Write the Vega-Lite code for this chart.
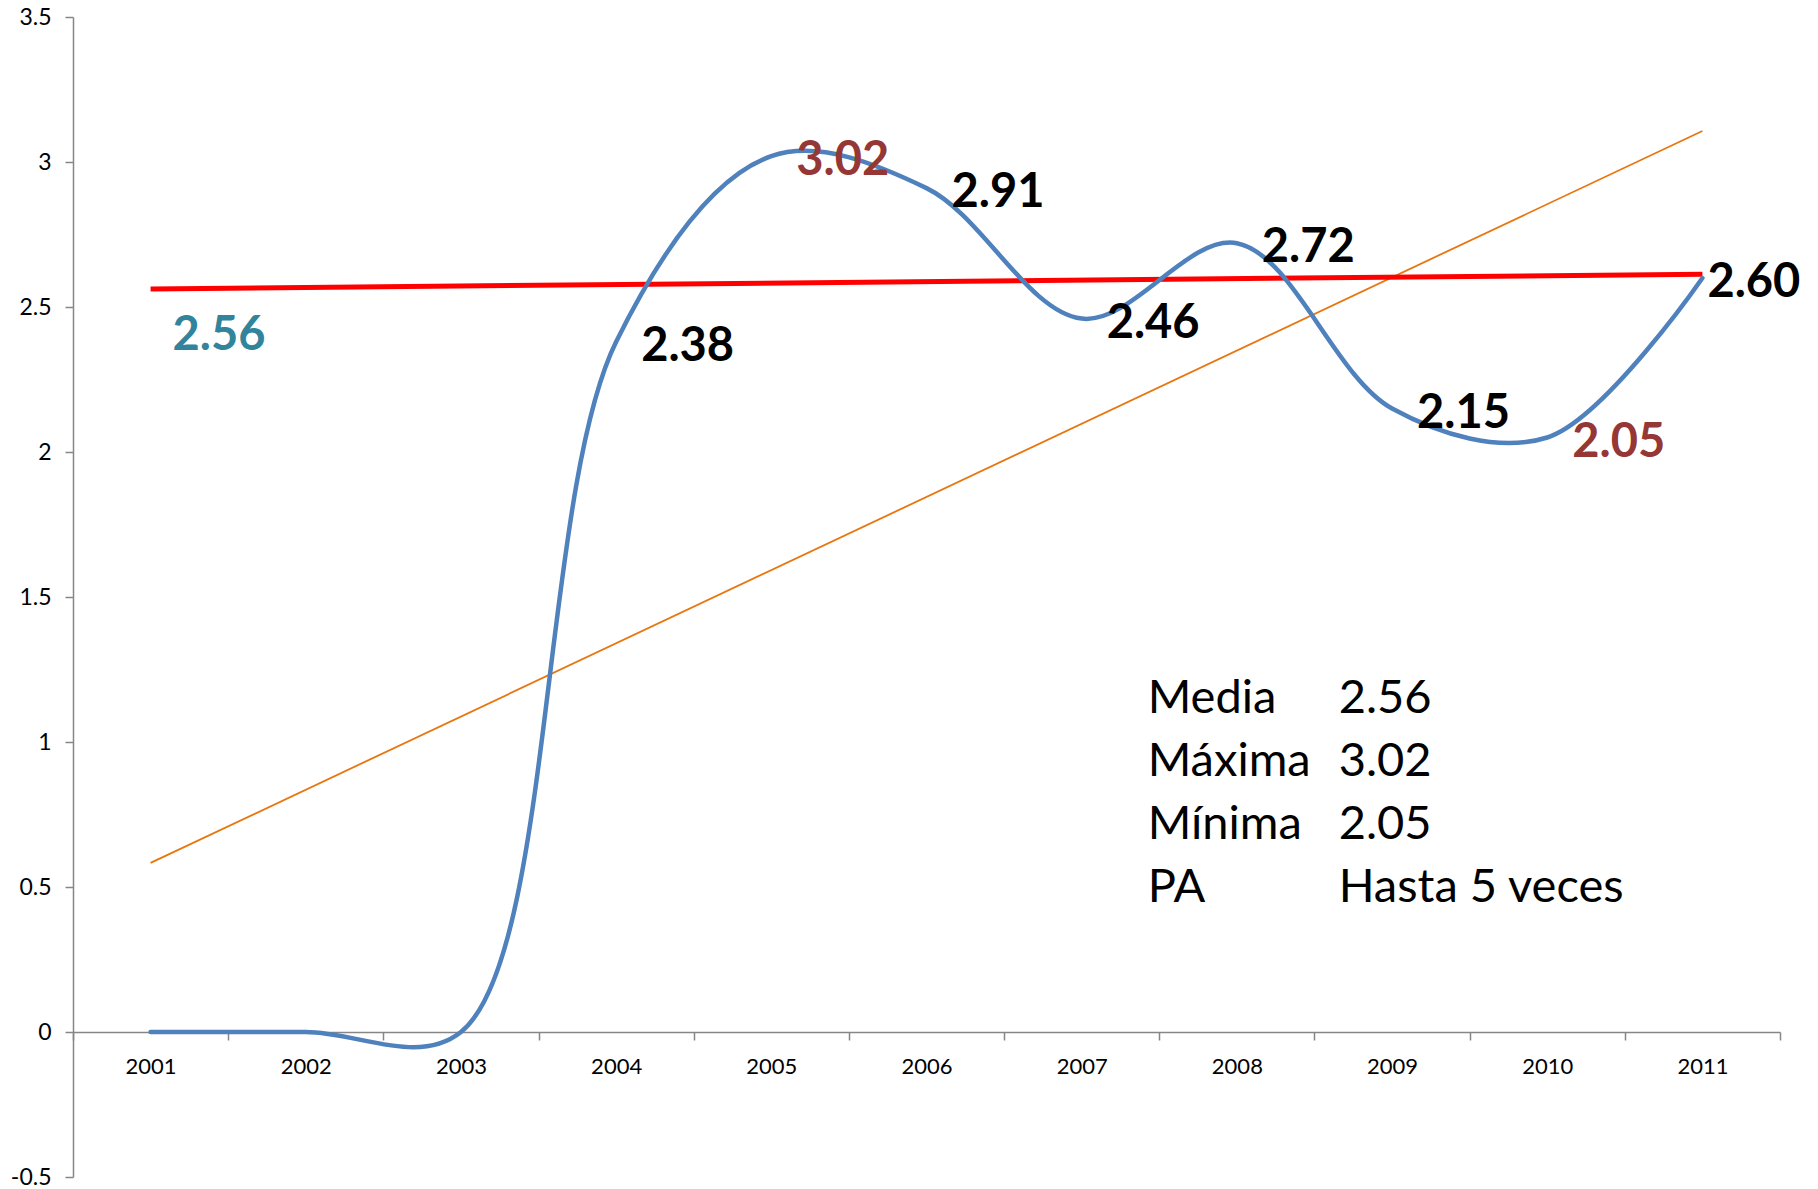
{
  "$schema": "https://vega.github.io/schema/vega-lite/v6.json",
  "width": 1707,
  "height": 1160,
  "autosize": {"type": "none"},
  "padding": {"left": 73, "top": 17, "right": 38, "bottom": 12},
  "background": "white",
  "config": {
    "view": {"stroke": null},
    "axis": {
      "domainColor": "#868686",
      "domainWidth": 1.5,
      "tickColor": "#868686",
      "tickWidth": 1.5,
      "tickSize": 8,
      "grid": false,
      "labelFont": "Lato",
      "labelFontSize": 22,
      "labelColor": "#000000",
      "title": null
    }
  },
  "datasets": {
    "serie": [
      {"anio": "2001", "valor": 0, "etiqueta": "", "tipo": "Dato"},
      {"anio": "2002", "valor": 0, "etiqueta": "", "tipo": "Dato"},
      {"anio": "2003", "valor": 0, "etiqueta": "", "tipo": "Dato"},
      {"anio": "2004", "valor": 2.38, "etiqueta": "2.38", "tipo": "Dato"},
      {"anio": "2005", "valor": 3.02, "etiqueta": "3.02", "tipo": "Máxima"},
      {"anio": "2006", "valor": 2.91, "etiqueta": "2.91", "tipo": "Dato"},
      {"anio": "2007", "valor": 2.46, "etiqueta": "2.46", "tipo": "Dato"},
      {"anio": "2008", "valor": 2.72, "etiqueta": "2.72", "tipo": "Dato"},
      {"anio": "2009", "valor": 2.15, "etiqueta": "2.15", "tipo": "Dato"},
      {"anio": "2010", "valor": 2.05, "etiqueta": "2.05", "tipo": "Mínima"},
      {"anio": "2011", "valor": 2.60, "etiqueta": "2.60", "tipo": "Dato"}
    ],
    "media": [
      {"anio": "2001", "valor": 2.562},
      {"anio": "2011", "valor": 2.613}
    ],
    "tendencia": [
      {"anio": "2001", "valor": 0.583},
      {"anio": "2011", "valor": 3.107}
    ],
    "resumen": [
      {"linea": 1, "nombre": "Media", "dato": "2.56"},
      {"linea": 2, "nombre": "Máxima", "dato": "3.02"},
      {"linea": 3, "nombre": "Mínima", "dato": "2.05"},
      {"linea": 4, "nombre": "PA", "dato": "Hasta 5 veces"}
    ]
  },
  "layer": [
    {
      "data": {"name": "tendencia"},
      "mark": {"type": "line", "color": "#E8760F", "strokeWidth": 1.8},
      "encoding": {
        "x": {
          "field": "anio",
          "type": "ordinal",
          "bandPosition": 0.5,
          "scale": {
            "type": "band",
            "domain": ["2001","2002","2003","2004","2005","2006","2007","2008","2009","2010","2011"],
            "paddingInner": 0,
            "paddingOuter": 0
          },
          "axis": {
            "orient": "bottom",
            "offset": -145,
            "tickBand": "extent",
            "labelAngle": 0,
            "labelPadding": 16,
            "labelBaseline": "top"
          }
        },
        "y": {
          "field": "valor",
          "type": "quantitative",
          "scale": {"domain": [-0.5, 3.5], "nice": false, "zero": false},
          "axis": {
            "values": [-0.5, 0, 0.5, 1, 1.5, 2, 2.5, 3, 3.5],
            "format": ".1~f",
            "labelExpr": "replace(datum.label, '\u2212', '-')",
            "labelPadding": 14,
            "labelFontSize": 23
          }
        }
      }
    },
    {
      "data": {"name": "media"},
      "mark": {"type": "line", "color": "#FF0000", "strokeWidth": 5},
      "encoding": {
        "x": {"field": "anio", "type": "ordinal", "bandPosition": 0.5},
        "y": {"field": "valor", "type": "quantitative"}
      }
    },
    {
      "data": {"name": "serie"},
      "mark": {"type": "line", "color": "#4F81BD", "strokeWidth": 4.5, "interpolate": "catmull-rom", "strokeCap": "round"},
      "encoding": {
        "x": {"field": "anio", "type": "ordinal", "bandPosition": 0.5},
        "y": {"field": "valor", "type": "quantitative"}
      }
    },
    {
      "data": {"name": "serie"},
      "transform": [{"filter": "datum.etiqueta != '' && datum.anio != '2011'"}],
      "mark": {"type": "text", "align": "left", "baseline": "middle", "dx": 25, "dy": 5, "font": "Lato", "fontSize": 47, "fontWeight": "bold"},
      "encoding": {
        "x": {"field": "anio", "type": "ordinal", "bandPosition": 0.5},
        "y": {"field": "valor", "type": "quantitative"},
        "text": {"field": "etiqueta"},
        "color": {
          "field": "tipo",
          "type": "nominal",
          "scale": {"domain": ["Dato", "Máxima", "Mínima"], "range": ["#000000", "#953735", "#953735"]},
          "legend": null
        }
      }
    },
    {
      "data": {"name": "serie"},
      "transform": [{"filter": "datum.anio == '2011'"}],
      "mark": {"type": "text", "align": "left", "baseline": "middle", "dx": 5, "dy": 5, "font": "Lato", "fontSize": 47, "fontWeight": "bold", "color": "#000000"},
      "encoding": {
        "x": {"field": "anio", "type": "ordinal", "bandPosition": 0.5},
        "y": {"field": "valor", "type": "quantitative"},
        "text": {"field": "etiqueta"}
      }
    },
    {
      "data": {"name": "media"},
      "transform": [{"filter": "datum.anio == '2001'"}],
      "mark": {"type": "text", "align": "left", "baseline": "middle", "dx": 22, "dy": 47, "font": "Lato", "fontSize": 47, "fontWeight": "bold", "color": "#31849B"},
      "encoding": {
        "x": {"field": "anio", "type": "ordinal", "bandPosition": 0.5},
        "y": {"field": "valor", "type": "quantitative"},
        "text": {"value": "2.56"}
      }
    },
    {
      "data": {"name": "resumen"},
      "layer": [
        {"transform": [{"filter": "datum.linea == 1"}], "mark": {"type": "text", "align": "left", "baseline": "alphabetic", "dx": 66, "font": "Lato", "fontSize": 47, "color": "#000000"}, "encoding": {"x": {"datum": "2007"}, "y": {"datum": 1.1}, "text": {"field": "nombre"}}},
        {"transform": [{"filter": "datum.linea == 1"}], "mark": {"type": "text", "align": "left", "baseline": "alphabetic", "dx": 257, "font": "Lato", "fontSize": 47, "color": "#000000"}, "encoding": {"x": {"datum": "2007"}, "y": {"datum": 1.1}, "text": {"field": "dato"}}},
        {"transform": [{"filter": "datum.linea == 2"}], "mark": {"type": "text", "align": "left", "baseline": "alphabetic", "dx": 66, "font": "Lato", "fontSize": 47, "color": "#000000"}, "encoding": {"x": {"datum": "2007"}, "y": {"datum": 0.883}, "text": {"field": "nombre"}}},
        {"transform": [{"filter": "datum.linea == 2"}], "mark": {"type": "text", "align": "left", "baseline": "alphabetic", "dx": 257, "font": "Lato", "fontSize": 47, "color": "#000000"}, "encoding": {"x": {"datum": "2007"}, "y": {"datum": 0.883}, "text": {"field": "dato"}}},
        {"transform": [{"filter": "datum.linea == 3"}], "mark": {"type": "text", "align": "left", "baseline": "alphabetic", "dx": 66, "font": "Lato", "fontSize": 47, "color": "#000000"}, "encoding": {"x": {"datum": "2007"}, "y": {"datum": 0.666}, "text": {"field": "nombre"}}},
        {"transform": [{"filter": "datum.linea == 3"}], "mark": {"type": "text", "align": "left", "baseline": "alphabetic", "dx": 257, "font": "Lato", "fontSize": 47, "color": "#000000"}, "encoding": {"x": {"datum": "2007"}, "y": {"datum": 0.666}, "text": {"field": "dato"}}},
        {"transform": [{"filter": "datum.linea == 4"}], "mark": {"type": "text", "align": "left", "baseline": "alphabetic", "dx": 66, "font": "Lato", "fontSize": 47, "color": "#000000"}, "encoding": {"x": {"datum": "2007"}, "y": {"datum": 0.448}, "text": {"field": "nombre"}}},
        {"transform": [{"filter": "datum.linea == 4"}], "mark": {"type": "text", "align": "left", "baseline": "alphabetic", "dx": 257, "font": "Lato", "fontSize": 47, "color": "#000000"}, "encoding": {"x": {"datum": "2007"}, "y": {"datum": 0.448}, "text": {"field": "dato"}}}
      ]
    }
  ]
}
